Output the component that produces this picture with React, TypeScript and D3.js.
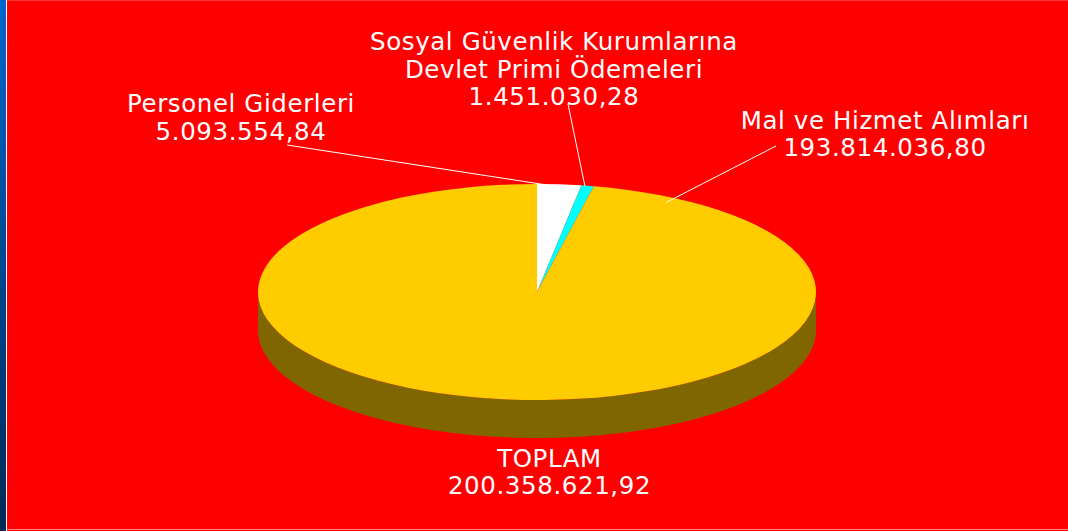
import React from 'react';
import * as d3 from 'd3';

// chart data
const categories = ['Personel Giderleri', 'Sosyal Güvenlik Kurumlarına Devlet Primi Ödemeleri', 'Mal ve Hizmet Alımları'];
const labelLines = [['Personel Giderleri'], ['Sosyal Güvenlik Kurumlarına', 'Devlet Primi Ödemeleri'], ['Mal ve Hizmet Alımları']];
const values = [5093554.84, 1451030.28, 193814036.80];
const sliceColors = ['#FFFFFF', '#00FFFF', '#FFCC00'];
const sideColors = ['#808080', '#008080', '#806600'];
const totalLabel = 'TOPLAM';
const totalValue = 200358621.92;

const W = 1068;
const H = 531;
const cx = 537;
const cy = 292;
const rx = 279;
const ry = 108;
const depth = 38;
const fontSize = 24.5;
const lineH = 27.5;

// label boxes: center x, first baseline; anchor = where in the slice the leader points
const labelPos = [
  { x: 241, y: 112, sx: 287, sy: 145, t: 0.25, r: 0.99 },
  { x: 554, y: 50, sx: 568, sy: 104, t: 0.33, r: 0.99 },
  { x: 885, y: 128.5, sx: 776, sy: 146, t: 0.05, r: 0.95 },
];

const trLocale = d3.formatLocale({ decimal: ',', thousands: '.', grouping: [3], currency: ['', ''] });
const fmt = trLocale.format(',.2f');

// angle 0 = up, clockwise, like d3.arc
const pt = (a: number, r = 1, dy = 0): [number, number] => [cx + rx * r * Math.sin(a), cy - ry * r * Math.cos(a) + dy];

function sidePath(a0: number, a1: number) {
  const lo = Math.max(a0, Math.PI / 2);
  const hi = Math.min(a1, Math.PI * 1.5);
  if (hi <= lo) return null;
  const top = d3.range(lo, hi, 0.01).concat([hi]).map((a) => pt(a));
  const bottom = top.slice().reverse().map(([x, y]) => [x, y + depth] as [number, number]);
  return d3.line()(top.concat(bottom)) + 'Z';
}

export default function App() {
  const pie = d3.pie<number>().sort(null).value((d) => d);
  const arcs = pie(values);
  const arc = d3.arc<d3.PieArcDatum<number>>().innerRadius(0).outerRadius(rx);

  return (
    <svg width={W} height={H} style={{ position: 'absolute', left: 0, top: 0, display: 'block', fontFamily: 'DejaVu Sans', fontSize: fontSize, letterSpacing: 0.6 }}>
      <defs>
        <linearGradient id="strip" x1="0" y1="0" x2="0" y2="1">
          <stop offset="0" stopColor="#0066CC" />
          <stop offset="1" stopColor="#002A55" />
        </linearGradient>
      </defs>
      <rect x={0} y={0} width={6} height={H} fill="url(#strip)" />
      <rect x={6} y={0} width={1} height={H} fill="#FFFFFF" />
      <rect x={7} y={0} width={W - 7} height={H} fill="#FF0000" />
      <rect x={7} y={0} width={W - 7} height={1} fill="#FF3333" />
      <rect x={7} y={H - 2} width={W - 7} height={1} fill="#FF8080" />

      {/* side walls (front half only) */}
      {arcs.map((a, i) => {
        const d = sidePath(a.startAngle, a.endAngle);
        return d ? <path key={'s' + i} d={d} fill={sideColors[i]} /> : null;
      })}

      {/* top face: circular arc squashed into an ellipse */}
      <g transform={`translate(${cx},${cy}) scale(1,${ry / rx})`}>
        {arcs.map((a, i) => (
          <path key={'t' + i} d={arc(a) || ''} fill={sliceColors[i]} />
        ))}
      </g>

      {/* leader lines and labels */}
      {arcs.map((a, i) => {
        const L = labelPos[i];
        const [ex, ey] = pt(a.startAngle + (a.endAngle - a.startAngle) * L.t, L.r);
        return (
          <g key={'l' + i}>
            <line x1={L.sx} y1={L.sy} x2={ex} y2={ey} stroke="#FFFFFF" strokeWidth={1} />
            <text fill="#FFFFFF" textAnchor="middle">
              {labelLines[i].map((s, j) => (
                <tspan key={j} x={L.x} y={L.y + j * lineH}>{s}</tspan>
              ))}
              <tspan x={L.x} y={L.y + labelLines[i].length * lineH}>{fmt(values[i])}</tspan>
            </text>
          </g>
        );
      })}

      <text fill="#FFFFFF" textAnchor="middle">
        <tspan x={549.5} y={466.5}>{totalLabel}</tspan>
        <tspan x={549.5} y={494}>{fmt(totalValue)}</tspan>
      </text>
      <title>{categories.join(', ')}</title>
    </svg>
  );
}
